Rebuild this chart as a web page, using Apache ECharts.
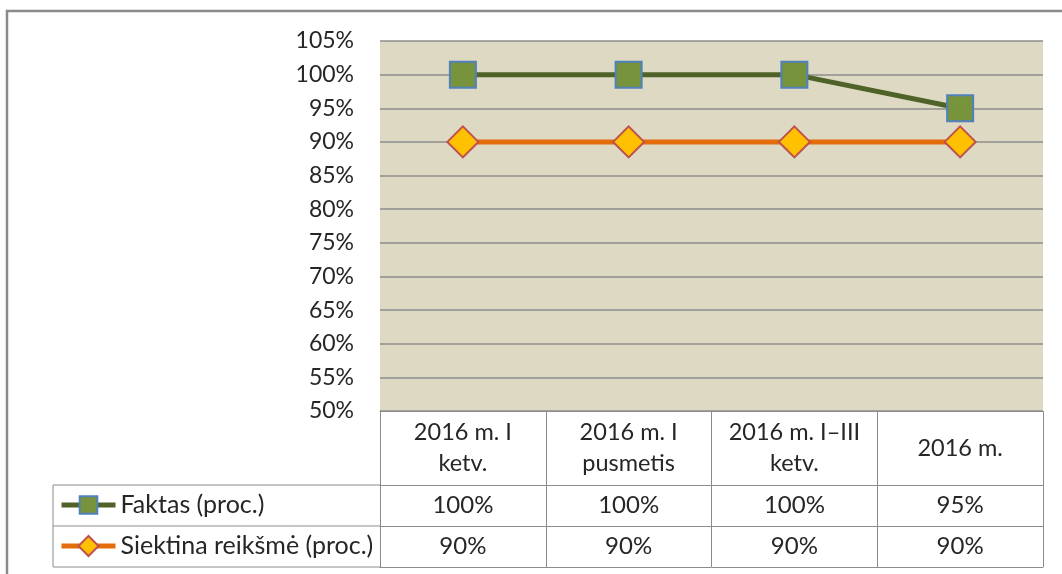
<!DOCTYPE html>
<html>
<head>
<meta charset="utf-8">
<script src="https://cdn.jsdelivr.net/npm/echarts@6/dist/echarts.min.js"></script>
<style>
  html, body { margin: 0; padding: 0; background: #fff; }
  #chart { width: 1062px; height: 574px; }
</style>
</head>
<body>
<div id="chart"></div>
<script>
// data
const categories = ['2016 m. I\nketv.', '2016 m. I\npusmetis', '2016 m. I\u2013III\nketv.', '2016 m.'];
const faktas = [100, 100, 100, 95];
const siektina = [90, 90, 90, 90];
const seriesNames = ['Faktas (proc.)', 'Siektina reikšmė (proc.)'];

// layout
const gridLeft = 380, gridTop = 41, gridRight = 1043, gridBottom = 411;
const rowFaktas = 485, rowSiekt = 526, rowEnd = 567, tableLeft = 53;
const font = 'Lato';
const gray = '#8c8c8c';
const txt = '#262626';

var myChart = echarts.init(document.getElementById('chart'));

function tableAxis (offset, values) {
  return {
    type: 'category',
    data: categories,
    position: 'bottom',
    offset: offset,
    axisLine: { show: true, lineStyle: { color: gray, width: 1 } },
    axisTick: { show: false },
    axisLabel: values ? {
      interval: 0,
      margin: 20,
      verticalAlign: 'middle',
      fontFamily: font,
      fontSize: 24,
      color: txt,
      formatter: function (v, i) { return values[i] + '%' }
    } : { show: false }
  }
}

function legendRow (name, top, h) {
  return {
    data: [name],
    left: 59,
    top: top,
    padding: 0,
    itemWidth: 54,
    itemHeight: h,
    itemGap: 5,
    lineStyle: { width: 5 },
    textStyle: { fontFamily: font, fontSize: 25, color: txt, lineHeight: 30 }
  }
}

var option = {
  animation: false,
  grid: {
    left: gridLeft,
    top: gridTop,
    right: 1062 - gridRight,
    bottom: 574 - gridBottom,
    show: true,
    backgroundColor: '#DDD9C3',
    borderWidth: 0
  },
  legend: [
    legendRow(seriesNames[0], rowFaktas + 5, 22),
    legendRow(seriesNames[1], rowSiekt + 5, 25)
  ],
  xAxis: [
    {
      type: 'category',
      data: categories,
      position: 'bottom',
      axisLine: { show: true, lineStyle: { color: gray, width: 1 } },
      axisTick: { show: true, length: rowEnd - gridBottom, lineStyle: { color: gray, width: 1 } },
      axisLabel: {
        interval: 0,
        margin: 37,
        verticalAlign: 'middle',
        fontFamily: font,
        fontSize: 23.5,
        lineHeight: 31,
        color: txt
      }
    },
    tableAxis(rowFaktas - gridBottom, faktas),
    tableAxis(rowSiekt - gridBottom, siektina),
    tableAxis(rowEnd - gridBottom, null)
  ],
  yAxis: {
    type: 'value',
    min: 50,
    max: 105,
    interval: 5,
    axisLine: { show: false },
    axisTick: { show: false },
    splitLine: { lineStyle: { color: gray, width: 1.5 } },
    axisLabel: {
      margin: 26,
      fontFamily: font,
      fontSize: 23,
      color: txt,
      formatter: '{value}%'
    }
  },
  series: [
    {
      name: seriesNames[0],
      type: 'line',
      data: faktas,
      symbol: 'rect',
      symbolSize: 26,
      lineStyle: { color: '#4F6228', width: 5 },
      itemStyle: { color: '#77933C', borderColor: '#4F81BD', borderWidth: 2 },
      z: 3
    },
    {
      name: seriesNames[1],
      type: 'line',
      data: siektina,
      symbol: 'diamond',
      symbolSize: 31,
      lineStyle: { color: '#E46C0A', width: 5 },
      itemStyle: { color: '#FFC000', borderColor: '#C0504D', borderWidth: 2 },
      z: 2
    }
  ],
  graphic: [
    // outer chart frame
    { type: 'rect', shape: { x: 7, y: 11, width: 1100, height: 600 }, style: { fill: null, stroke: '#8a8a8a', lineWidth: 2.5 }, silent: true },
    // legend column of the data table
    { type: 'line', shape: { x1: tableLeft, y1: rowFaktas, x2: gridLeft, y2: rowFaktas }, style: { stroke: gray, lineWidth: 1 } },
    { type: 'line', shape: { x1: tableLeft, y1: rowSiekt, x2: gridLeft, y2: rowSiekt }, style: { stroke: gray, lineWidth: 1 } },
    { type: 'line', shape: { x1: tableLeft, y1: rowEnd, x2: gridLeft, y2: rowEnd }, style: { stroke: gray, lineWidth: 1 } },
    { type: 'line', shape: { x1: tableLeft, y1: rowFaktas, x2: tableLeft, y2: rowEnd }, style: { stroke: gray, lineWidth: 1 } }
  ]
};

myChart.setOption(option);
</script>
</body>
</html>
